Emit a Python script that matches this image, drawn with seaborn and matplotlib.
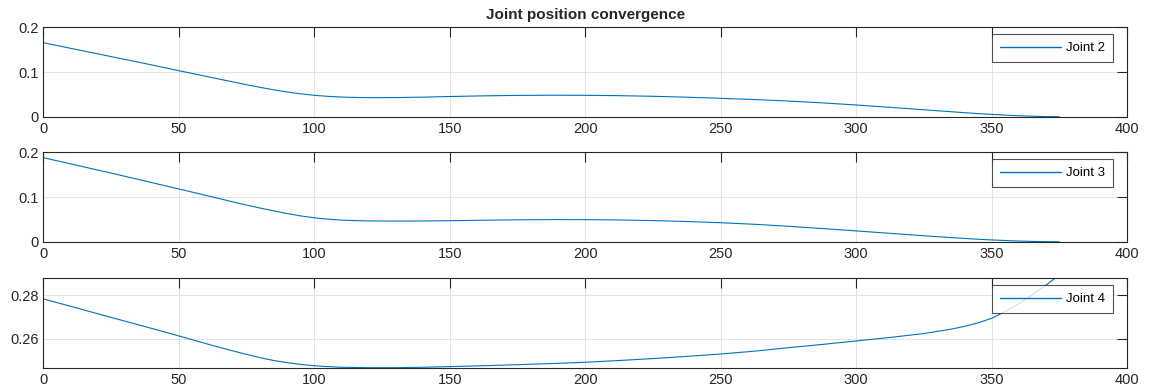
import numpy as np
import pandas as pd
import matplotlib
matplotlib.use("Agg")
import matplotlib.pyplot as plt
import seaborn as sns

# Iteration index at which each joint error was sampled
iterations = [0, 12.5, 25, 37.5, 50, 62.5, 70, 75, 80, 85, 90, 95, 100, 105,
              110, 115, 120, 130, 140, 150, 162.5, 175, 187.5, 200, 212.5, 225,
              237.5, 250, 262.5, 275, 287.5, 300, 312.5, 325, 335, 340, 345,
              350, 355, 360, 365, 370, 375]

joint2 = [0.1655, 0.1500, 0.1345, 0.1190, 0.1030, 0.0872, 0.0778, 0.0716,
          0.0657, 0.0602, 0.0553, 0.0512, 0.0479, 0.0455, 0.0440, 0.0431,
          0.0427, 0.0428, 0.0438, 0.0452, 0.0467, 0.0477, 0.0481, 0.0479,
          0.0471, 0.0457, 0.0437, 0.0412, 0.0384, 0.0351, 0.0310, 0.0262,
          0.0210, 0.0155, 0.0112, 0.0090, 0.0070, 0.0052, 0.0036, 0.0022,
          0.0011, 0.0004, 0.0]

joint3 = [0.1880, 0.1708, 0.1535, 0.1358, 0.1180, 0.1000, 0.0890, 0.0820,
          0.0753, 0.0690, 0.0630, 0.0577, 0.0535, 0.0504, 0.0484, 0.0472,
          0.0465, 0.0462, 0.0464, 0.0470, 0.0481, 0.0490, 0.0495, 0.0494,
          0.0487, 0.0473, 0.0452, 0.0425, 0.0390, 0.0345, 0.0295, 0.0242,
          0.0188, 0.0133, 0.0093, 0.0074, 0.0055, 0.0040, 0.0027, 0.0015,
          0.0007, 0.0002, 0.0]

joint4 = [0.2782, 0.2740, 0.2697, 0.2655, 0.2612, 0.2568, 0.2543, 0.2527,
          0.2512, 0.2499, 0.2489, 0.2481, 0.2475, 0.2471, 0.2468, 0.2467,
          0.2466, 0.2466, 0.2468, 0.2471, 0.2475, 0.2480, 0.2485, 0.2491,
          0.2499, 0.2508, 0.2518, 0.2529, 0.2542, 0.2558, 0.2573, 0.2589,
          0.2605, 0.2623, 0.2643, 0.2656, 0.2672, 0.2693, 0.2724, 0.2760,
          0.2801, 0.2845, 0.2892]

series = [
    ("Joint 2", joint2, (0, 0.2), [0, 0.1, 0.2], ["0", "0.1", "0.2"]),
    ("Joint 3", joint3, (0, 0.2), [0, 0.1, 0.2], ["0", "0.1", "0.2"]),
    ("Joint 4", joint4, (0.2466, 0.2877), [0.26, 0.28], ["0.26", "0.28"]),
]
x_ticks = [0, 50, 100, 150, 200, 250, 300, 350, 400]

sns.set_theme(style="white")
plt.rcParams["font.family"] = ["Liberation Sans", "DejaVu Sans"]

line_color = "#0072BD"
axis_color = "#262626"

fig = plt.figure(figsize=(11.5, 3.91), dpi=100)
fig.patch.set_facecolor("white")

left, width, height = 0.0378, 0.9422, 0.2286
bottoms = [0.7015, 0.3818, 0.0596]

for (name, ys, ylim, yt, ytl), b in zip(series, bottoms):
    ax = fig.add_axes([left, b, width, height])
    df = pd.DataFrame({"iteration": iterations, "value": ys})
    sns.lineplot(data=df, x="iteration", y="value", ax=ax, color=line_color,
                 linewidth=0.8, label=name, sort=False)
    ax.set_xlim(0, 400)
    ax.set_ylim(*ylim)
    ax.set_xticks(x_ticks)
    ax.set_xticklabels([str(t) for t in x_ticks])
    ax.set_yticks(yt)
    ax.set_yticklabels(ytl)
    ax.set_xlabel("")
    ax.set_ylabel("")
    ax.grid(True, color="#e3e3e3", linewidth=0.7)
    ax.set_axisbelow(True)
    for sp in ax.spines.values():
        sp.set_visible(True)
        sp.set_color(axis_color)
        sp.set_linewidth(0.8)
    ax.tick_params(axis="both", which="major", direction="in", length=7,
                   width=0.8, color=axis_color, labelsize=10.5,
                   labelcolor=axis_color, top=True, right=True, pad=3.5)
    leg = ax.legend(loc="upper right", bbox_to_anchor=(0.987, 0.922),
                    fontsize=9.5, frameon=True, fancybox=False, borderpad=0.6,
                    handlelength=4.6, handletextpad=0.4, borderaxespad=0.0)
    leg.get_frame().set_edgecolor(axis_color)
    leg.get_frame().set_linewidth(0.8)
    for h in leg.legend_handles:
        h.set_color(line_color)
        h.set_linewidth(1.0)
    for t in leg.get_texts():
        t.set_color("black")
    if b == bottoms[0]:
        ax.set_title("Joint position convergence", fontsize=11,
                     fontweight="bold", pad=6)

fig.savefig("out.png", dpi=100, facecolor="white")
